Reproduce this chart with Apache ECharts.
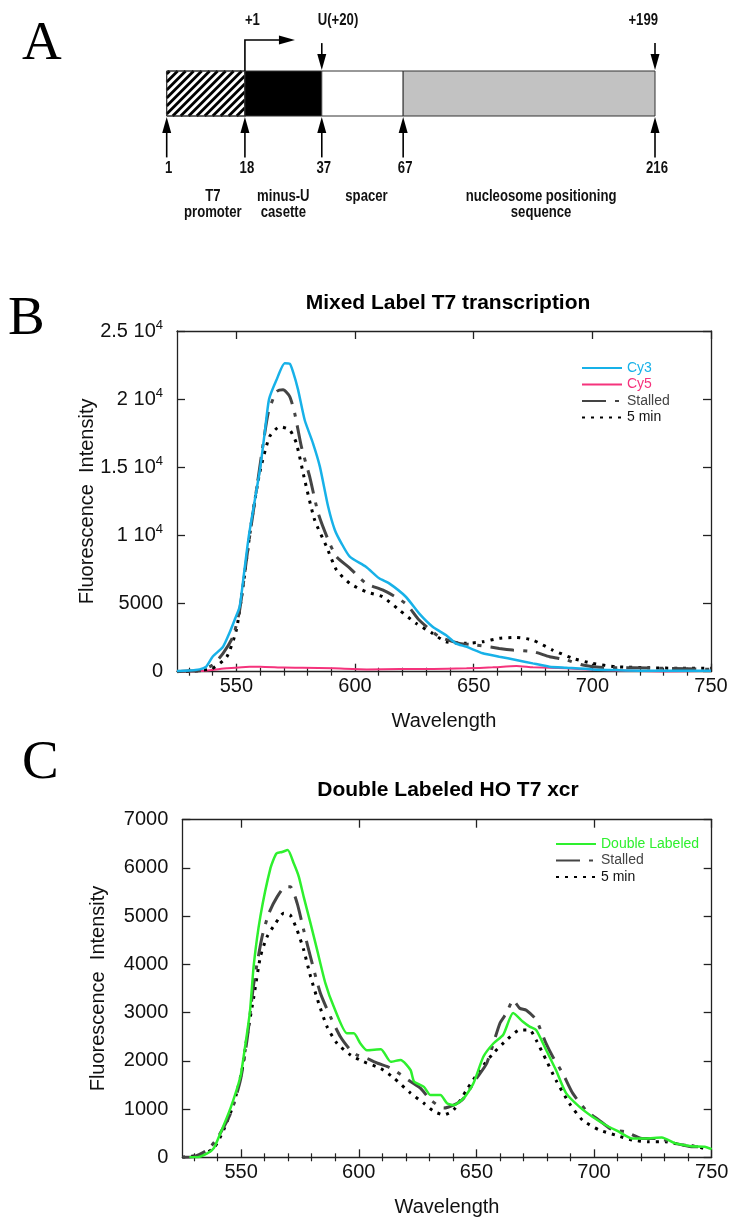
<!DOCTYPE html>
<html><head><meta charset="utf-8">
<script src="https://cdn.jsdelivr.net/npm/echarts@6/dist/echarts.min.js"></script>
<style>html,body{margin:0;padding:0;background:#fff}#chart{width:732px;height:1220px}</style>
</head><body><div id="chart"></div>
<script>
// ---------- Panel A (construct diagram, not to scale) ----------
const diagramEdges = [0, 17.3, 34.3, 52.3, 108];
const edgeLabels = ['1', '18', '37', '67', '216'];
const segmentNames = ['T7\npromoter', 'minus-U\ncasette', 'spacer', 'nucleosome positioning\nsequence'];
const siteLabels = ['+1', 'U(+20)', '+199'];
const siteEdges = [1, 2, 4];

// ---------- Panel B ----------
const bTitle = 'Mixed Label T7 transcription';
const bSeriesNames = ['Cy3', 'Cy5', 'Stalled', '5 min'];
const bCy3 = [[525,50],[530,80],[534.5,170],[537.3,370],[540,1100],[544.4,1835],[547,2800],[549.5,3900],[551.4,4770],[553.3,7300],[555.3,10000],[557.8,12600],[560.1,15000],[562,17600],[563.8,20000],[566.9,21400],[570.4,22630],[572.5,22600],[573.9,22000],[576,20700],[578.8,18470],[582.3,16760],[585.2,15050],[588.7,12100],[591.5,10400],[594.3,9420],[597.8,8440],[604.6,7700],[610.2,6850],[614.4,6480],[621.4,5500],[627,4280],[632.7,3300],[638.3,2690],[642.5,2080],[646.8,1835],[653.8,1350],[660.8,1100],[667.9,860],[674.9,610],[681.9,370],[689,290],[700,170],[710,120],[724,70],[750,70]];
const bCy5 = [[525,0],[537,70],[546,245],[555.6,370],[560,370],[570,300],[578,290],[591,245],[605,170],[619,200],[633,200],[647,245],[658,320],[668,415],[675,320],[689,245],[703,120],[717,70],[731,20],[750,70]];
const bStalled = [[525,0],[530,50],[534.5,70],[540,490],[544.4,1350],[548.6,2570],[551.4,4530],[555,9180],[559.1,14070],[563.4,18960],[566.9,20550],[569.7,20680],[572.5,20190],[574.6,18960],[577.4,16520],[580.9,14310],[584.5,11620],[588.7,9670],[592.2,8440],[597.8,7600],[604.6,6480],[611.6,6000],[618,5400],[622,4900],[627,3790],[635.5,2570],[644,2080],[651,1960],[660.8,1710],[666.5,1590],[675,1470],[682,1100],[689,860],[696,490],[703,320],[717,290],[731,245],[750,170]];
const b5min = [[525,0],[532,50],[540,245],[546,1100],[550,3060],[552.8,6240],[556.3,10890],[559.8,14560],[564,17250],[568.3,17980],[572.5,17740],[575.3,16760],[578.8,14070],[583,11130],[588,9180],[592.2,7460],[597.8,6480],[604.6,5870],[611.6,5500],[618.6,4530],[625.7,3550],[632.7,2810],[638.3,2200],[646.8,2080],[653.8,2200],[660.8,2450],[667.9,2520],[674.9,2320],[683.3,1590],[691.8,980],[700,610],[710,370],[724,290],[738,245],[750,245]];
const bYTicks = [0, 5000, 10000, 15000, 20000, 25000];
const bYTickLabels = ['0', '5000', '1 10{sup|4}', '1.5 10{sup|4}', '2 10{sup|4}', '2.5 10{sup|4}'];

// ---------- Panel C ----------
const cTitle = 'Double Labeled HO T7 xcr';
const cSeriesNames = ['Double Labeled', 'Stalled', '5 min'];
const cDouble = [[528,0],[531.3,0],[535.6,80],[538.4,190],[541.2,500],[545.5,1020],[549.7,1670],[550.8,2000],[553.7,3000],[555.4,4000],[558.2,5000],[562.5,6000],[565,6300],[567.4,6330],[569.8,6370],[572.4,6090],[574.5,5820],[576.6,5400],[579.5,4850],[582.3,4300],[585.8,3610],[589.4,3120],[595,2570],[597.9,2570],[600.7,2360],[603.5,2220],[609.4,2240],[613.6,1980],[617.8,2020],[622,1810],[623.5,1570],[627.7,1460],[630.5,1290],[634.7,1290],[637.5,1120],[640.3,1080],[644.5,1220],[648.7,1530],[653,2090],[657.2,2360],[661.4,2540],[665.6,2990],[669.8,2810],[672.6,2710],[675.4,2640],[679.6,2230],[683.8,1810],[688.1,1330],[693.7,1050],[699.3,840],[704.9,670],[710.5,530],[716.2,390],[721.8,390],[728.8,410],[734.4,290],[741.4,230],[747,220],[750,170]];
const cStalled = [[525,0],[530,15],[535.6,150],[539.8,390],[545.5,910],[549.7,1600],[552.5,2430],[555.4,3610],[558.9,4570],[561.8,5060],[565.3,5400],[568.8,5610],[570.9,5610],[573.8,5270],[576.6,4710],[580.2,4020],[583.7,3400],[587.9,2920],[592.2,2500],[596.5,2220],[599.3,2120],[603.5,2050],[608,1950],[612.2,1880],[615,1810],[622,1570],[626.3,1430],[630.5,1190],[636.1,1020],[640.3,1080],[644.5,1220],[650.1,1640],[654.4,1950],[660,2780],[662.8,2990],[665.6,3260],[668.4,3090],[671.2,3050],[675.4,2850],[679.6,2360],[682.4,2090],[686.7,1740],[690.9,1330],[696.5,980],[702.1,770],[707.7,570],[713.3,530],[720.4,390],[727.4,390],[734.4,290],[741.4,220],[744.2,220]];
const c5min = [[525,0],[532.7,50],[538.4,190],[542.6,570],[546.9,1120],[550.4,1810],[552.5,2500],[555.4,3330],[558.2,4160],[561,4570],[564.6,4850],[568.1,5060],[570.9,5020],[573.8,4710],[576.6,4300],[579.5,3750],[583,3190],[586.5,2710],[590.8,2360],[596.5,2120],[602.1,1980],[609.4,1840],[615,1640],[622,1330],[627.7,1120],[632,950],[636.1,880],[640.3,980],[645.9,1400],[651.5,1810],[657.2,2160],[662.8,2430],[668.4,2640],[672.6,2640],[675.4,2430],[679.6,2020],[683.8,1600],[689.5,1120],[695.1,770],[702.1,570],[709.1,460],[716.2,360],[723.2,320],[730.2,320],[737.2,260],[744.2,220],[748.5,150]];
const cYTicks = [0, 1000, 2000, 3000, 4000, 5000, 6000, 7000];
const cYTickLabels = ['0', '1000', '2000', '3000', '4000', '5000', '6000', '7000'];

// shared x-axis ticks
const xMajorTicks = [550, 600, 650, 700, 750];
const xMinorTicks = [530, 540, 560, 570, 580, 590, 610, 620, 630, 640, 660, 670, 680, 690, 710, 720, 730, 740];
const xAxisName = 'Wavelength';
const yAxisName = 'Fluorescence  Intensity';

// ---------- styles ----------
const SANS = '"Liberation Sans", Arial, Helvetica, sans-serif';
const SERIF = '"Liberation Serif", "Times New Roman", serif';
const COL = { cy3: '#17b1e8', cy5: '#f5337c', green: '#2ef02e', stalled: '#444444', min5: '#000000' };
const DASH_STALLED = [24, 9, 4, 9];
const DOT = [3, 6];
const AX = '#222';
const diagFont = 'bold 16px ' + SANS;
const NARROW_SCALE = 0.82;
const SEG_LABEL_SHIFT = [7, 0, 4, 12];   // px nudges of segment captions

const chart = echarts.init(document.getElementById('chart'), null, { renderer: 'canvas' });

function narrowText(text, x, y, align, vAlign) {
  return { type: 'text', x, y, scaleX: NARROW_SCALE, scaleY: 1,
    style: { text, x: 0, y: 0, font: diagFont, align, verticalAlign: vAlign, lineHeight: 16, fill: '#111' } };
}

function renderSegment(params, api) {
  const i = api.value(2);
  const tl = api.coord([api.value(0), 1]);
  const br = api.coord([api.value(1), 0]);
  const x0 = tl[0], y0 = tl[1], x1 = br[0], y1 = br[1];
  const fills = ['#ffffff', '#000000', '#ffffff', '#c2c2c2'];
  const children = [{ type: 'rect', shape: { x: x0, y: y0, width: x1 - x0, height: y1 - y0 }, style: { fill: fills[i], stroke: '#333', lineWidth: 1 } }];
  if (i === 0) {
    for (let c = x0 + y0 + 3; c < x1 + y1; c += 8) {
      const xa = Math.max(x0, c - y1), xb = Math.min(x1, c - y0);
      if (xa < xb) children.push({ type: 'line', shape: { x1: xa, y1: c - xa, x2: xb, y2: c - xb }, style: { stroke: '#000', lineWidth: 2.8 } });
    }
    children.push({ type: 'rect', shape: { x: x0, y: y0, width: x1 - x0, height: y1 - y0 }, style: { fill: 'none', stroke: '#333', lineWidth: 1 } });
  }
  const mid = (api.value(0) + api.value(1)) / 2;
  const tp = api.coord([mid, -1.62]);
  children.push(narrowText(segmentNames[i], tp[0] + SEG_LABEL_SHIFT[i], tp[1], 'center', 'top'));
  return { type: 'group', children };
}

function renderEdge(params, api) {
  const i = api.value(1);
  const x = api.coord([api.value(0), 0])[0];
  const yBox = api.coord([0, 0])[1];
  const yTail = api.coord([0, -0.92])[1];
  const yNum = api.coord([0, -1.16])[1];
  return { type: 'group', children: [
    { type: 'line', shape: { x1: x, y1: yTail, x2: x, y2: yBox + 12 }, style: { stroke: '#000', lineWidth: 1.6 } },
    { type: 'polygon', shape: { points: [[x, yBox + 1], [x - 4.5, yBox + 17], [x + 4.5, yBox + 17]] }, style: { fill: '#000' } },
    narrowText(edgeLabels[i], x + 2, yNum, 'center', 'middle')
  ] };
}

function renderSite(params, api) {
  const i = api.value(1);
  const x = api.coord([api.value(0), 1])[0];
  const yTop = api.coord([0, 1])[1];
  const yLab = api.coord([0, 2.11])[1];
  const children = [];
  if (i === 0) {
    const yb = api.coord([0, 1.69])[1];
    children.push({ type: 'polyline', shape: { points: [[x, yTop], [x, yb], [x + 36, yb]] }, style: { stroke: '#000', lineWidth: 1.6, fill: null } });
    children.push({ type: 'polygon', shape: { points: [[x + 50, yb], [x + 34, yb - 4.5], [x + 34, yb + 4.5]] }, style: { fill: '#000' } });
    children.push(narrowText(siteLabels[i], x, yLab, 'left', 'middle'));
  } else {
    const yt = api.coord([0, 1.62])[1];
    children.push({ type: 'line', shape: { x1: x, y1: yt, x2: x, y2: yTop - 12 }, style: { stroke: '#000', lineWidth: 1.6 } });
    children.push({ type: 'polygon', shape: { points: [[x, yTop - 1], [x - 4.5, yTop - 17], [x + 4.5, yTop - 17]] }, style: { fill: '#000' } });
    const right = i === siteLabels.length - 1;
    children.push(narrowText(siteLabels[i], right ? x + 3 : x - 4, yLab, right ? 'right' : 'left', 'middle'));
  }
  return { type: 'group', children };
}

function xAxesFor(gridIndex) {
  const base = { gridIndex, type: 'value', min: 525, max: 750, splitLine: { show: false } };
  const line = { show: true, onZero: false, lineStyle: { color: AX, width: 1.3 } };
  return [
    Object.assign({}, base, { position: 'bottom', axisLine: line,
      axisTick: { show: true, inside: true, length: 8, customValues: xMajorTicks, lineStyle: { color: AX, width: 1.3 } },
      axisLabel: { show: true, customValues: xMajorTicks, margin: 5, fontSize: 20, fontFamily: SANS, color: '#111' },
      name: xAxisName, nameLocation: 'middle', nameGap: 40, nameMoveOverlap: false, nameTextStyle: { fontSize: 20, fontFamily: SANS, color: '#111' } }),
    Object.assign({}, base, { position: 'bottom', axisLine: { show: false },
      axisTick: { show: true, inside: true, length: 4, customValues: xMinorTicks, lineStyle: { color: AX, width: 1.2 } },
      axisLabel: { show: false } }),
    Object.assign({}, base, { position: 'top', axisLine: line,
      axisTick: { show: true, inside: true, length: 8, customValues: xMajorTicks, lineStyle: { color: AX, width: 1.3 } },
      axisLabel: { show: false } }),
    Object.assign({}, base, { position: 'top', axisLine: { show: false },
      axisTick: { show: true, inside: true, length: 4, customValues: xMinorTicks, lineStyle: { color: AX, width: 1.2 } },
      axisLabel: { show: false } })
  ];
}

function yAxesFor(gridIndex, max, interval, ticks, labels, nameGap) {
  const line = { show: true, onZero: false, lineStyle: { color: AX, width: 1.3 } };
  return [
    { gridIndex, type: 'value', min: 0, max, interval, position: 'left', splitLine: { show: false }, axisLine: line,
      axisTick: { show: true, inside: true, length: 8, lineStyle: { color: AX, width: 1.3 } },
      axisLabel: { margin: 14, fontSize: 20, fontFamily: SANS, color: '#111',
        formatter: v => { const k = ticks.indexOf(v); return k >= 0 ? labels[k] : ''; },
        rich: { sup: { fontSize: 13, fontFamily: SANS, color: '#111', padding: [0, 0, 12, 0] } } },
      name: yAxisName, nameLocation: 'middle', nameGap, nameMoveOverlap: false,
      nameTextStyle: { fontSize: 20, fontFamily: SANS, color: '#111' } },
    { gridIndex, type: 'value', min: 0, max, interval, position: 'right', splitLine: { show: false }, axisLine: line,
      axisTick: { show: true, inside: true, length: 8, lineStyle: { color: AX, width: 1.3 } },
      axisLabel: { show: false } }
  ];
}

function lineSeries(name, data, xi, yi, color, width, dash, z) {
  return { type: 'line', name, data, xAxisIndex: xi, yAxisIndex: yi, symbol: 'none', showSymbol: false, smooth: 0.2,
    lineStyle: { color, width, type: dash || 'solid', cap: 'butt' }, itemStyle: { color }, z, silent: true };
}

const letterStyle = { fontFamily: SERIF, fontSize: 55, fontWeight: 'normal', color: '#000' };
const titleStyle = { fontFamily: SANS, fontSize: 21, fontWeight: 'bold', color: '#000' };
const legendText = { fontFamily: SANS, fontSize: 14, color: '#333' };
const legendBase = { orient: 'vertical', padding: 0, itemWidth: 40, itemHeight: 12, itemGap: 2.5, selectedMode: false,
  textStyle: legendText, itemStyle: { opacity: 0 } };

const option = {
  backgroundColor: '#fff',
  animation: false,
  title: [
    { text: 'A', left: 22, top: 17, padding: 0, textStyle: letterStyle },
    { text: 'B', left: 8, top: 292, padding: 0, textStyle: letterStyle },
    { text: 'C', left: 22, top: 736, padding: 0, textStyle: letterStyle },
    { text: bTitle, left: 448, top: 293, padding: 0, textAlign: 'center', textStyle: titleStyle },
    { text: cTitle, left: 448, top: 780, padding: 0, textAlign: 'center', textStyle: titleStyle }
  ],
  grid: [
    { left: 166.7, top: 3.5, width: 488.3, height: 225 },
    { left: 177, top: 331, width: 534, height: 340.7 },
    { left: 182.3, top: 819.7, width: 529.4, height: 337.6 }
  ],
  xAxis: [{ gridIndex: 0, type: 'value', min: 0, max: 108, show: false }].concat(xAxesFor(1), xAxesFor(2)),
  yAxis: [{ gridIndex: 0, type: 'value', min: -2.5, max: 2.5, show: false }]
    .concat(yAxesFor(1, 25000, 5000, bYTicks, bYTickLabels, 80), yAxesFor(2, 7000, 1000, cYTicks, cYTickLabels, 74)),
  legend: [
    Object.assign({}, legendBase, { left: 581, top: 361,
      data: [
        { name: bSeriesNames[0], textStyle: { color: COL.cy3 } },
        { name: bSeriesNames[1], textStyle: { color: COL.cy5 } },
        { name: bSeriesNames[2], textStyle: { color: '#444' } },
        { name: bSeriesNames[3], textStyle: { color: '#111' } }
      ] }),
    Object.assign({}, legendBase, { left: 555, top: 837,
      data: [
        { name: cSeriesNames[0], textStyle: { color: COL.green } },
        { name: cSeriesNames[1], textStyle: { color: '#444' } },
        { name: cSeriesNames[2], textStyle: { color: '#111' } }
      ] })
  ],
  series: [
    { type: 'custom', xAxisIndex: 0, yAxisIndex: 0, silent: true, renderItem: renderSegment,
      data: segmentNames.map((n, i) => [diagramEdges[i], diagramEdges[i + 1], i]) },
    { type: 'custom', xAxisIndex: 0, yAxisIndex: 0, silent: true, renderItem: renderEdge,
      data: diagramEdges.map((e, i) => [e, i]) },
    { type: 'custom', xAxisIndex: 0, yAxisIndex: 0, silent: true, renderItem: renderSite,
      data: siteEdges.map((e, i) => [diagramEdges[e], i]) },
    lineSeries(bSeriesNames[1], bCy5, 1, 1, COL.cy5, 2, null, 3),
    lineSeries(bSeriesNames[3], b5min, 1, 1, COL.min5, 3, DOT, 4),
    lineSeries(bSeriesNames[2], bStalled, 1, 1, COL.stalled, 3, DASH_STALLED, 5),
    lineSeries(bSeriesNames[0], bCy3, 1, 1, COL.cy3, 2.5, null, 6),
    lineSeries(cSeriesNames[2], c5min, 5, 3, COL.min5, 3, DOT, 4),
    lineSeries(cSeriesNames[1], cStalled, 5, 3, COL.stalled, 3, DASH_STALLED, 5),
    lineSeries(cSeriesNames[0], cDouble, 5, 3, COL.green, 2.5, null, 6)
  ]
};
chart.setOption(option);
</script></body></html>
